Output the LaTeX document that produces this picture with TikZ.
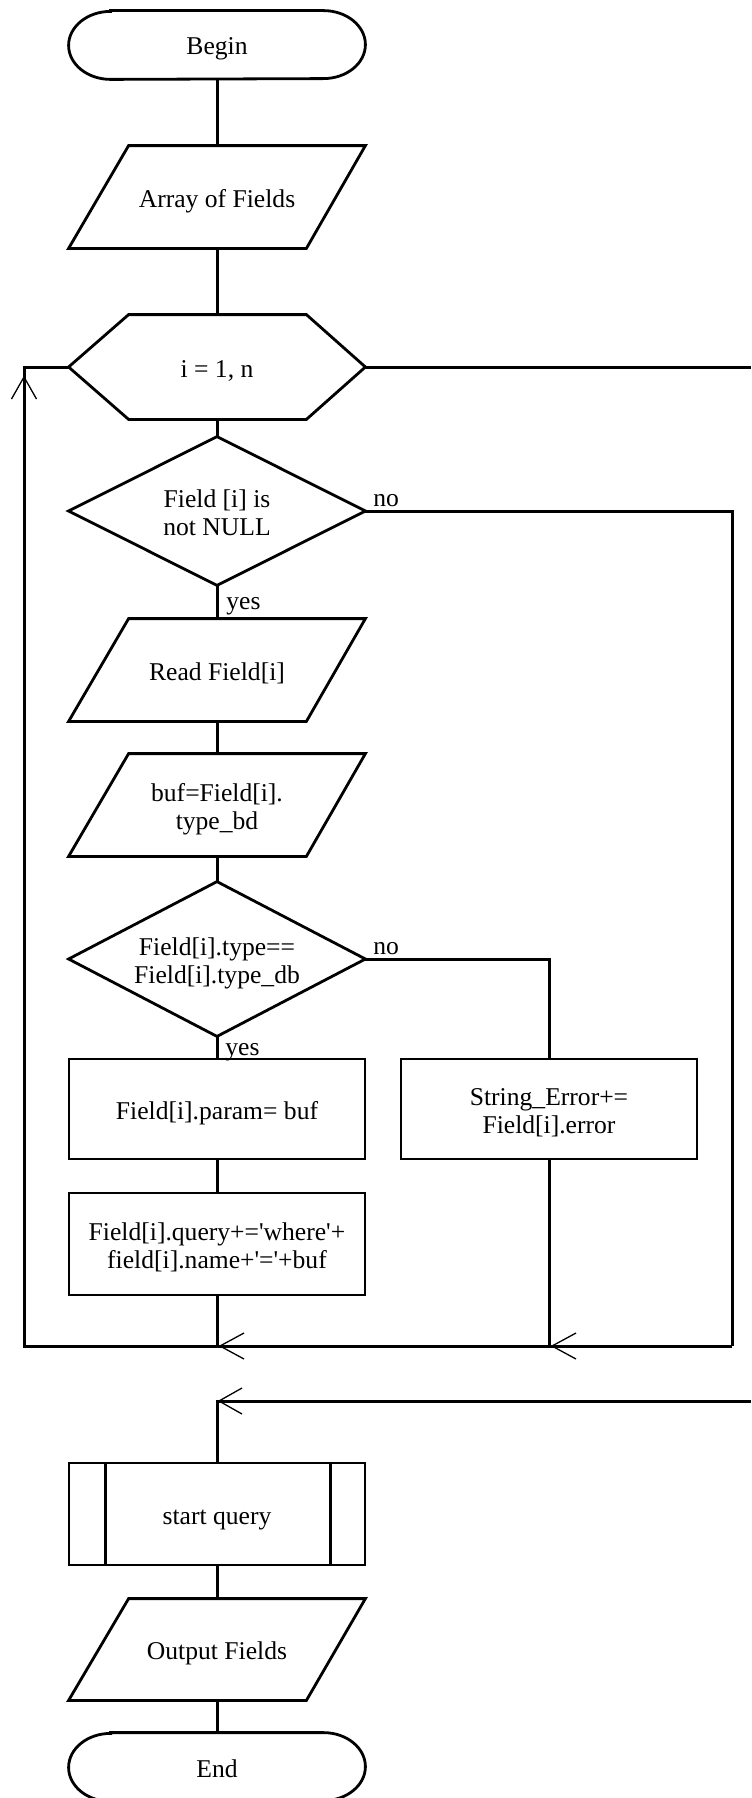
\documentclass[tikz,border=0pt]{standalone}
\usepackage{fontspec}
\setmainfont{Liberation Serif}
\usetikzlibrary{calc}

\tikzset{
  txt/.style={font=\fontsize{12.8}{14}\selectfont},
  box/.style={txt, draw=none, inner sep=0pt, minimum width=148pt, align=center,
    text height=10pt, text depth=0pt},
  twoline/.style={text height=24pt, text depth=0pt},
  proc/.style={box, draw, line width=1.4pt},
  fig/.style={line width=1.4pt, line join=miter},
  wire/.style={line width=1.5pt},
  barb/.style={line width=0.65pt},
  lbl/.style={txt, inner sep=0pt},
}

% outline helpers drawn around plain rectangular nodes
\newcommand{\paraframe}[1]{%
  \draw[fig] ($(#1.north west)+(60,0)$) -- (#1.north east)
    -- ($(#1.south east)+(-59,0)$) -- (#1.south west) -- cycle;}
\newcommand{\termframe}[1]{%
  \draw[fig] ($(#1.north west)+(42,0)$) -- ($(#1.north east)+(-42,0)$)
    arc[start angle=90, end angle=-90, x radius=21pt, y radius=17pt]
    -- ($(#1.south west)+(42,0)$)
    arc[start angle=270, end angle=90, x radius=21pt, y radius=17pt] -- cycle;}
\newcommand{\diamondframe}[1]{%
  \draw[fig] (#1.north) -- (#1.east) -- (#1.south) -- (#1.west) -- cycle;}
\newcommand{\barbleft}[1]{%
  \draw[barb] ($(#1)+(27,-13)$) -- ($(#1)+(3,0)$) -- ($(#1)+(27,13)$);}

\begin{document}
\begin{tikzpicture}[x=0.5pt, y=-0.5pt]
\clip (0,0) rectangle (751,1798);
\fill[white] (0,0) rectangle (751,1798);

% ---- blocks ----
\node[box, minimum height=34pt] (begin) at (217,45) {Begin};
\node[box, minimum height=51pt] (arr) at (217,197) {Array of Fields};
\node[box, minimum height=52pt] (loop) at (217,367) {i = 1, n};
\node[box, twoline, minimum height=74pt] (d1) at (217,511) {Field [i] is\\not NULL};
\node[box, minimum height=51pt] (read) at (217,670) {Read Field[i]};
\node[box, twoline, minimum height=51pt] (buf) at (217,805) {buf=Field[i].\\type\_bd};
\node[box, twoline, minimum height=77pt] (d2) at (217,959) {Field[i].type==\\Field[i].type\_db};
\node[proc, minimum height=50pt] (param) at (217,1109) {Field[i].param= buf};
\node[proc, twoline, minimum height=50pt] (err) at (549,1109) {String\_Error+=\\Field[i].error};
\node[proc, twoline, minimum height=51pt] (query) at (217,1244)
  {Field[i].query+=\textquotesingle where\textquotesingle+\\field[i].name+\textquotesingle=\textquotesingle+buf};
\node[proc, minimum height=51pt] (sq) at (217,1514) {start query};
\node[box, minimum height=50.5pt] (out) at (217,1649.5) {Output Fields};
\node[box, minimum height=34pt] (end) at (217,1767) {End};

\termframe{begin}
\paraframe{arr}
\draw[fig] (loop.west) -- ($(loop.north west)+(60,0)$) -- ($(loop.north east)+(-59,0)$)
  -- (loop.east) -- ($(loop.south east)+(-59,0)$) -- ($(loop.south west)+(60,0)$) -- cycle;
\diamondframe{d1}
\paraframe{read}
\paraframe{buf}
\diamondframe{d2}
\draw[fig] ($(sq.north west)+(38,0)$) -- ($(sq.south west)+(38,0)$);
\draw[fig] ($(sq.north east)+(-36,0)$) -- ($(sq.south east)+(-36,0)$);
\paraframe{out}
\termframe{end}

% ---- branch labels ----
\node[lbl, anchor=base west] (no1) at (373,506) {no};
\node[lbl, anchor=base west] (yes1) at (226,609) {yes};
\node[lbl, anchor=base west] (no2) at (373,954) {no};
\node[lbl, anchor=base west] (yes2) at (225,1055) {yes};

% ---- connectors ----
\coordinate (rt) at (732,1346);
\coordinate (lf) at (24,1346);
\coordinate (lx) at (751,367);
\coordinate (ex) at (751,1401);
\coordinate (m1) at (query.south |- rt);
\coordinate (m2) at (err.south |- rt);
\coordinate (m3) at (sq.north |- ex);
\coordinate (up) at ($(lf |- loop.west)+(0,10)$);

\draw[wire] (begin.south) -- (arr.north);
\draw[wire] (arr.south) -- (loop.north);
\draw[wire] (loop.south) -- (d1.north);
\draw[wire] (d1.south) -- (read.north);
\draw[wire] (read.south) -- (buf.north);
\draw[wire] (buf.south) -- (d2.north);
\draw[wire] (d2.south) -- (param.north);
\draw[wire] (param.south) -- (query.north);
\draw[wire] (d2.east) -| (err.north);
\draw[wire] (d1.east) -| (rt);
\draw[wire] (rt) -- (lf) |- (loop.west);
\draw[wire] (err.south) -- (m2);
\draw[wire] (query.south) -- (m1);
\draw[wire] (loop.east) -- (lx);
\draw[wire] (ex) -| (sq.north);
\draw[wire] (sq.south) -- (out.north);
\draw[wire] (out.south) -- (end.north);

% ---- arrowheads ----
\barbleft{m1}
\barbleft{m2}
\draw[barb] ($(m3)+(25,-13)$) -- ($(m3)+(2,0)$) -- ($(m3)+(25,13)$);
\draw[barb] ($(up)+(-12.5,22)$) -- (up) -- ($(up)+(12.5,22)$);
\end{tikzpicture}
\end{document}
